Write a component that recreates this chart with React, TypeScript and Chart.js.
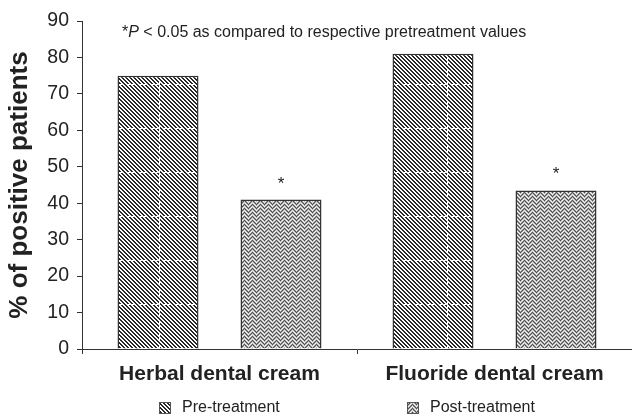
import React, { useEffect, useRef } from "react";
import { Chart, registerables } from "chart.js";

Chart.register(...registerables);

const categories = ["Herbal dental cream", "Fluoride dental cream"];
const seriesNames = ["Pre-treatment", "Post-treatment"];
const preValues = [75, 81];
const postValues = [41, 43.5];
const significant = [true, true];
const yMin = 0;
const yMax = 90;
const yStep = 10;
const yTitle = "% of positive patients";
const notePrefix = "*";
const noteItalic = "P";
const noteRest = " < 0.05 as compared to respective pretreatment values";

const FONT = "'Liberation Sans', Arial, Helvetica, sans-serif";
const INK = "#222222";

function makePrePattern(ctx: CanvasRenderingContext2D) {
  const w = 144;
  const h = 44;
  const c = document.createElement("canvas");
  c.width = w;
  c.height = h;
  const g = c.getContext("2d")!;
  const img = g.createImageData(w, h);
  for (let y = 0; y < h; y++) {
    for (let x = 0; x < w; x++) {
      const d = (((x - y) % 4) + 4) % 4;
      let v = d < 2 ? 40 : 255;
      if ((x === 15 && y % 6 < 4) || (y === 40 && x % 6 < 4)) v = 255;
      const i = (y * w + x) * 4;
      img.data[i] = v;
      img.data[i + 1] = v;
      img.data[i + 2] = v;
      img.data[i + 3] = 255;
    }
  }
  g.putImageData(img, 0, 0);
  return ctx.createPattern(c, "repeat")!;
}

function makePostPattern(ctx: CanvasRenderingContext2D) {
  const w = 8;
  const h = 8;
  const c = document.createElement("canvas");
  c.width = w;
  c.height = h;
  const g = c.getContext("2d")!;
  const img = g.createImageData(w, h);
  const set = (x: number, y: number, v: number) => {
    const yy = ((y % h) + h) % h;
    const i = (yy * w + x) * 4;
    img.data[i] = v;
    img.data[i + 1] = v;
    img.data[i + 2] = v;
    img.data[i + 3] = 255;
  };
  for (let y = 0; y < h; y++) for (let x = 0; x < w; x++) set(x, y, 170);
  for (let x = 0; x < w; x++) {
    const t = Math.abs(x - 4);
    set(x, t, 80);
    set(x, t + 4, 80);
    set(x, t + 2, 245);
    set(x, t + 6, 245);
  }
  g.putImageData(img, 0, 0);
  return ctx.createPattern(c, "repeat")!;
}

export default function App() {
  const ref = useRef<HTMLCanvasElement | null>(null);

  useEffect(() => {
    const canvas = ref.current!;
    const ctx = canvas.getContext("2d")!;
    const prePat = makePrePattern(ctx);
    const postPat = makePostPattern(ctx);

    const extras = {
      id: "extras",
      afterDatasetsDraw(chart: any) {
        const c = chart.ctx as CanvasRenderingContext2D;
        c.save();
        // asterisks
        c.fillStyle = INK;
        c.font = `17px ${FONT}`;
        c.textAlign = "center";
        c.textBaseline = "alphabetic";
        const meta = chart.getDatasetMeta(1);
        meta.data.forEach((bar: any, i: number) => {
          if (significant[i]) c.fillText("*", bar.x, bar.y - 11);
        });
        // note
        c.textAlign = "left";
        c.textBaseline = "middle";
        let x = 122;
        const ny = 33;
        c.font = `16px ${FONT}`;
        c.fillText(notePrefix, x, ny);
        x += c.measureText(notePrefix).width;
        c.font = `italic 16px ${FONT}`;
        c.fillText(noteItalic, x, ny);
        x += c.measureText(noteItalic).width;
        c.font = `16px ${FONT}`;
        c.fillText(noteRest, x, ny);
        // legend
        const pats = [prePat, postPat];
        const boxX = [159, 407];
        const ly = 408;
        seriesNames.forEach((name, i) => {
          c.fillStyle = pats[i];
          c.fillRect(boxX[i], ly - 6, 12, 12);
          c.strokeStyle = "#555";
          c.lineWidth = 1;
          c.strokeRect(boxX[i] + 0.5, ly - 5.5, 11, 11);
          c.fillStyle = INK;
          c.font = `16px ${FONT}`;
          c.textBaseline = "middle";
          c.fillText(name, boxX[i] + 23, ly);
        });
        c.restore();
      },
    };

    const chart = new Chart(canvas, {
      type: "bar",
      data: {
        labels: categories,
        datasets: [
          {
            label: seriesNames[0],
            data: preValues,
            backgroundColor: prePat as any,
            borderColor: "#333",
            borderWidth: 1.5,
            categoryPercentage: 0.8945,
            barPercentage: 0.6585,
          },
          {
            label: seriesNames[1],
            data: postValues,
            backgroundColor: postPat as any,
            borderColor: "#333",
            borderWidth: 1.5,
            categoryPercentage: 0.8945,
            barPercentage: 0.6585,
          },
        ],
      },
      options: {
        responsive: false,
        animation: false,
        layout: { padding: { left: 0, right: 0, top: 21, bottom: 0 } },
        plugins: {
          legend: { display: false },
          title: { display: false },
          tooltip: { enabled: false },
        },
        scales: {
          x: {
            afterFit(scale: any) {
              scale.height = 70;
            },
            grid: {
              drawOnChartArea: false,
              drawTicks: true,
              tickLength: 5,
              tickColor: "#333",
              offset: true,
            },
            border: { display: true, color: "#333", width: 1 },
            ticks: {
              padding: 8,
              color: INK,
              font: { family: FONT, size: 21, weight: "bold" },
            },
          },
          y: {
            min: yMin,
            max: yMax,
            afterFit(scale: any) {
              scale.width = 82;
            },
            grid: {
              drawOnChartArea: false,
              drawTicks: true,
              tickLength: 5,
              tickColor: "#333",
            },
            border: { display: true, color: "#333", width: 1 },
            ticks: {
              stepSize: yStep,
              padding: 8,
              color: INK,
              font: { family: FONT, size: 19.5 },
            },
            title: {
              display: true,
              text: yTitle,
              color: INK,
              padding: { top: 4, bottom: 4 },
              font: { family: FONT, size: 26, weight: "bold" },
            },
          },
        },
      },
      plugins: [extras],
    });

    return () => chart.destroy();
  }, []);

  return (
    <div style={{ position: "absolute", left: 0, top: 0, width: 632, height: 419 }}>
      <canvas ref={ref} width={632} height={419} style={{ display: "block" }} />
    </div>
  );
}
